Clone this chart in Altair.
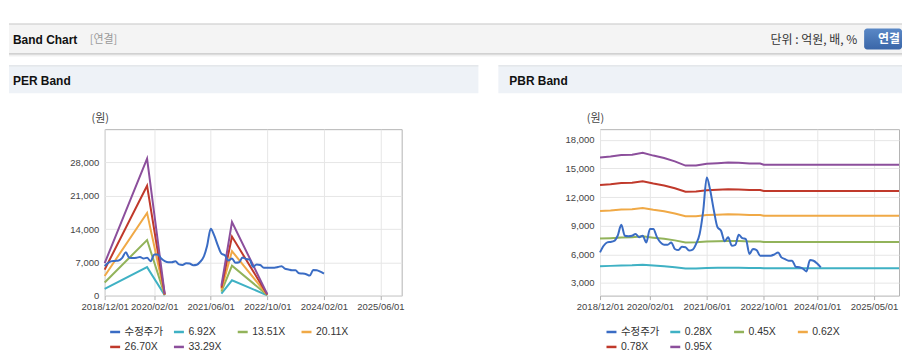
import altair as alt
import pandas as pd

# ---------------- data ----------------
price_dates = list(pd.date_range("2018-12-01", periods=63, freq="MS").strftime("%Y/%m/%d"))
price_values = [6200, 6900, 7250, 7300, 7400, 7950, 9100, 7950, 7900, 7950,
                8130, 7800, 7950, 7250, 8650, 8650, 7800, 7250, 7000, 7000,
                7250, 6560, 6450, 6800, 6750, 6400, 6500, 7080, 8130, 10500,
                14050, 12660, 10570, 8830, 8480, 7360, 7780, 6900, 7000, 8040,
                7700, 7600, 6040, 6560, 6450, 5860, 5860, 5860, 5860, 6000,
                6200, 5680, 5500, 5330, 5330, 4700, 4640, 4500, 4210, 5400,
                5330, 5030, 4630]

per_names = ["수정주가", "6.92X", "13.51X", "20.11X", "26.70X", "33.29X"]
per_band_dates = ["2018/12/01", "2019/12/01", "2020/05/01", "2021/09/01", "2021/12/01", "2022/10/01"]
per_band_segment = [1, 1, 1, 2, 2, 2]
per_692 = [1419, 5985, 62, 432, 3218, 62]
per_1351 = [2770, 11686, 122, 844, 6282, 122]
per_2011 = [4123, 17395, 181, 1257, 9351, 181]
per_2670 = [5474, 23096, 240, 1669, 12416, 240]
per_3329 = [6824, 28796, 300, 2081, 15480, 300]
per_ticks_x = ["2018/12/01", "2020/02/01", "2021/06/01", "2022/10/01", "2024/02/01", "2025/06/01"]
per_ticks_y = [0, 7000, 14000, 21000, 28000]

pbr_names = ["수정주가", "0.28X", "0.45X", "0.62X", "0.78X", "0.95X"]
pbr_band_dates = ["2018/12/01", "2019/03/01", "2019/06/01", "2019/09/01", "2019/12/01", "2020/03/01",
                  "2020/06/01", "2020/09/01", "2020/12/01", "2021/03/01", "2021/06/01", "2021/09/01",
                  "2021/12/01", "2022/03/01", "2022/06/01", "2022/09/01", "2022/10/01", "2025/12/01"]
pbr_028 = [4760, 4789, 4834, 4848, 4904, 4819, 4745, 4642, 4509, 4515, 4568, 4583, 4604, 4598, 4574, 4574, 4539, 4539]
pbr_045 = [7650, 7697, 7768, 7792, 7882, 7745, 7626, 7461, 7247, 7257, 7342, 7366, 7399, 7389, 7352, 7352, 7295, 7295]
pbr_062 = [10540, 10605, 10703, 10736, 10860, 10671, 10507, 10279, 9985, 9998, 10116, 10148, 10194, 10181, 10129, 10129, 10051, 10051]
pbr_078 = [13260, 13342, 13465, 13506, 13662, 13425, 13219, 12932, 12562, 12578, 12726, 12767, 12825, 12808, 12743, 12743, 12645, 12645]
pbr_095 = [16150, 16250, 16400, 16450, 16640, 16350, 16100, 15750, 15300, 15320, 15500, 15550, 15620, 15600, 15520, 15520, 15400, 15400]
pbr_ticks_x = ["2018/12/01", "2020/02/01", "2021/06/01", "2022/10/01", "2024/01/01", "2025/05/01"]
pbr_ticks_y = [3000, 6000, 9000, 12000, 15000, 18000]

COLORS = ["#3a6cc4", "#3fb1c4", "#92b35a", "#f0a946", "#c0392b", "#8c4f9c"]
FONT = "Liberation Sans"
KFONT = "Noto Sans CJK KR"

# ---------------- tables ----------------
price_df = pd.DataFrame({"date": price_dates, "value": price_values, "series": "수정주가"})


def band_table(dates, names, lists, segs=None):
    rows = []
    for name, vals in zip(names, lists):
        for i, (d, v) in enumerate(zip(dates, vals)):
            rows.append({"date": d, "value": v, "series": name,
                         "seg": segs[i] if segs else 1})
    return pd.DataFrame(rows)


per_df = band_table(per_band_dates, per_names[1:], [per_692, per_1351, per_2011, per_2670, per_3329], per_band_segment)
pbr_df = band_table(pbr_band_dates, pbr_names[1:], [pbr_028, pbr_045, pbr_062, pbr_078, pbr_095])


def dt(s):
    y, m, d = s.split("/")
    return alt.DateTime(year=int(y), month=int(m), date=int(d))


x_domain = [dt("2018/12/01"), dt("2025/12/01")]


def panel(band_df, names, y_domain, y_ticks, x_ticks, legend_x):
    x = alt.X("date:T", scale=alt.Scale(domain=x_domain),
              axis=alt.Axis(values=[dt(s) for s in x_ticks], format="%Y/%m/%d", title=None,
                            labelAngle=0, labelFlush=False, labelOverlap=False, ticks=True,
                            tickSize=4, tickColor="#b0b0b0", labelPadding=2, grid=True))
    y = alt.Y("value:Q", scale=alt.Scale(domain=y_domain, nice=False, zero=False),
              axis=alt.Axis(values=y_ticks, format=",d", title="(원)", titleAngle=0,
                            titleX=-5, titleY=-11, titleAlign="center", titleBaseline="middle",
                            titleFont=KFONT, titleFontSize=11, titleFontWeight="normal",
                            titleColor="#444", ticks=False, tickSize=0, labelPadding=6, grid=True))
    color = alt.Color("series:N", scale=alt.Scale(domain=names, range=COLORS),
                      sort=names,
                      legend=alt.Legend(title=None, orient="none", legendX=legend_x, legendY=197,
                                        direction="horizontal", columns=4,
                                        symbolType="stroke", symbolStrokeWidth=2.5,
                                        symbolSize=100, labelFont=f"{FONT}, {KFONT}",
                                        labelFontSize=10.5, labelColor="#333", labelOffset=3,
                                        columnPadding=5, rowPadding=3, gridAlign="all", padding=0))
    bands = alt.Chart(band_df).mark_line(strokeWidth=2).encode(x=x, y=y, color=color, detail="seg:N")
    price = alt.Chart(price_df).mark_line(strokeWidth=2, interpolate="monotone").encode(x=x, y=y, color=color)
    return bands, price


one = pd.DataFrame({"k": [0]})


def rect(x1, x2, y1, y2, **kw):
    return alt.Chart(one).mark_rect(**kw).encode(x=alt.value(x1), x2=alt.value(x2), y=alt.value(y1), y2=alt.value(y2))


def hline(x1, x2, yv, color):
    return alt.Chart(one).mark_rule(color=color, strokeWidth=1).encode(x=alt.value(x1), x2=alt.value(x2), y=alt.value(yv))


def label(txt, xv, yv, **kw):
    return alt.Chart(one).mark_text(text=txt, baseline="middle", **kw).encode(x=alt.value(xv), y=alt.value(yv))


button_fill = alt.LinearGradient(gradient="linear", x1=0, y1=0, x2=0, y2=1,
                                 stops=[alt.GradientStop(color="#5a88c6", offset=0),
                                        alt.GradientStop(color="#3a66a8", offset=1)])

decos = [
    rect(-96, 800, -120, 222, opacity=0),
    rect(-96, 800, -105, -75, color="#f4f4f4"),
    hline(-96, 800, -105.5, "#c4c4c4"),
    hline(-96, 800, -75.5, "#b8b8b8"),
    hline(-96, 800, -74.5, "#dcdcdc"),
    hline(-96, 800, -73.5, "#efefef"),
    label("Band Chart", -92, -89.5, align="left", font=FONT, fontSize=12, fontWeight="bold", color="#111"),
    label("[연결]", -15, -89.5, align="left", font=KFONT, fontSize=11, color="#999"),
    label("단위 : 억원, 배, %", 755, -89.5, align="right", font=KFONT, fontSize=12, color="#333"),
    rect(762, 800, -101, -80, fill=button_fill, cornerRadius=3),
    label("연결", 787, -90.5, align="center", font=KFONT, fontSize=12, fontWeight="bold", color="white"),
    rect(-96, 375, -63, -36, color="#eef2f7"),
    hline(-96, 375, -63.5, "#d3d8de"),
    rect(395, 800, -63, -36, color="#eef2f7"),
    hline(395, 800, -63.5, "#d3d8de"),
    label("PER Band", -92, -48, align="left", font=FONT, fontSize=12, fontWeight="bold", color="#111"),
    label("PBR Band", 406, -48, align="left", font=FONT, fontSize=12, fontWeight="bold", color="#111"),
]

per_bands, per_price = panel(per_df, per_names, [0, 35000], per_ticks_y, per_ticks_x, 4)
pbr_bands, pbr_price = panel(pbr_df, pbr_names, [1671, 19120], pbr_ticks_y, pbr_ticks_x, 5)

left = alt.layer(*decos, per_bands, per_price).properties(width=298, height=167)
right = alt.layer(pbr_bands, pbr_price).properties(width=300, height=167)

chart = (
    alt.hconcat(left, right, spacing=199)
    .resolve_scale(color="independent", x="independent", y="independent")
    .properties(bounds="flush", padding=0)
    .configure_view(stroke="#b4b4b4", strokeWidth=1)
    .configure_axis(labelFont=FONT, labelFontSize=9.5, labelColor="#444",
                    gridColor="#e6e6e6", gridWidth=1, domain=False)
)

chart.save("out.html", embed_options={"renderer": "svg", "actions": False})
